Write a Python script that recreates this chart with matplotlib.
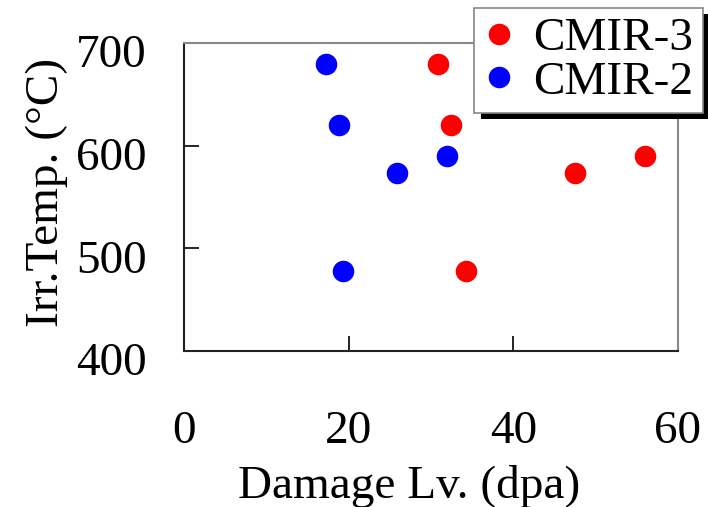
import matplotlib.pyplot as plt
import matplotlib.patheffects as pe
from matplotlib.transforms import ScaledTranslation

# data
cmir3_dpa = [30.9, 32.4, 47.5, 56.0, 34.3]
cmir3_temp = [680, 620, 573, 590, 478]
cmir2_dpa = [17.3, 18.8, 25.9, 32.0, 19.3]
cmir2_temp = [680, 620, 573, 590, 478]

plt.rcParams['font.family'] = ['Liberation Serif', 'DejaVu Serif']
fs = 34

fig = plt.figure(figsize=(7.08, 5.07), dpi=100)
ax = fig.add_axes([184 / 708, 1 - 351 / 507, 494 / 708, 308 / 507])

ax.plot(cmir3_dpa, cmir3_temp, 'o', color='#ff0000', markersize=14.5, label='CMIR-3')
ax.plot(cmir2_dpa, cmir2_temp, 'o', color='#0000ff', markersize=14.5, label='CMIR-2')

ax.set_xlim(0, 60)
ax.set_ylim(400, 700)
ax.set_xticks([0, 20, 40, 60])
ax.set_yticks([400, 500, 600, 700])
ax.tick_params(direction='in', length=11, width=1.2, labelsize=fs)
ax.tick_params(axis='x', pad=43)
ax.tick_params(axis='y', pad=27)

ax.set_xlabel('Damage Lv. (dpa)', fontsize=fs)
ax.xaxis.label.set_va('center')
ax.xaxis.set_label_coords(409 / 708, 1 - 487 / 507, transform=fig.transFigure)
ax.set_ylabel('Irr.Temp. (°C)', fontsize=fs)
ax.yaxis.label.set_va('center')
ax.yaxis.set_label_coords(47 / 708, 1 - 192 / 507, transform=fig.transFigure)

# y tick labels sit a little below their ticks in the original
shift = ScaledTranslation(0, -8 / 100, fig.dpi_scale_trans)
for lab in ax.get_yticklabels():
    lab.set_transform(lab.get_transform() + shift)

for side in ['left', 'bottom']:
    ax.spines[side].set_color('#222222')
    ax.spines[side].set_linewidth(1.5)
for side in ['top', 'right']:
    ax.spines[side].set_color('#888888')
    ax.spines[side].set_linewidth(1.5)

leg = ax.legend(loc='upper right', bbox_to_anchor=(703 / 708, 1 - 8 / 507),
                bbox_transform=fig.transFigure, fontsize=fs, fancybox=False,
                framealpha=1, edgecolor='#888888', handletextpad=0.4,
                borderpad=0.2, labelspacing=0.0, handlelength=0.65,
                borderaxespad=0, markerscale=1.0)
leg.get_frame().set_linewidth(1.2)
leg.get_frame().set_path_effects([
    pe.SimplePatchShadow(offset=(4.5, -4.5), shadow_rgbFace='k', alpha=1),
    pe.Normal()])

fig.savefig('out.png', dpi=100)
